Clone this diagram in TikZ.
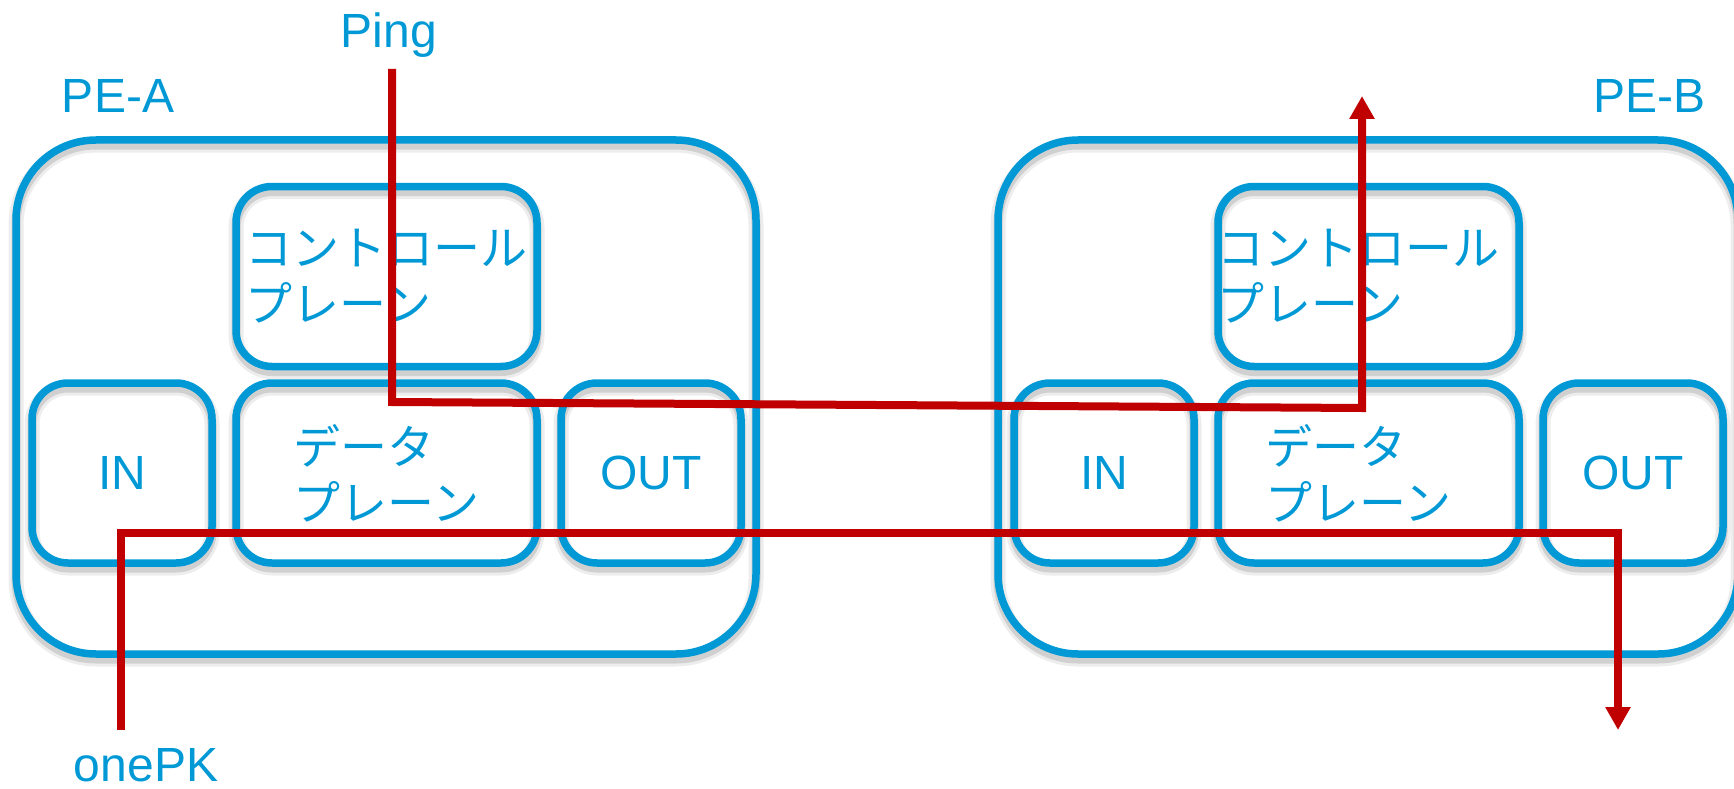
\documentclass[tikz,border=0pt]{standalone}
\usepackage{fontspec}
\setmainfont{Liberation Sans}
\newfontfamily\jpfont{Noto Sans CJK JP}
\usetikzlibrary{arrows.meta,positioning,calc,shadows}
\definecolor{peblue}{RGB}{0,153,214}
\definecolor{pathred}{RGB}{192,0,0}
\tikzset{
  boxshadow/.style={
    general shadow={shadow yshift=-5pt, draw=black, fill=none, opacity=0.07, line width=15pt},
    general shadow={shadow yshift=-5pt, draw=black, fill=none, opacity=0.12, line width=9pt}},
  pebox/.style={draw=peblue, line width=7.5pt, rounded corners=80pt, boxshadow,
    minimum width=740pt, minimum height=514pt, inner sep=0pt},
  partbox/.style={draw=peblue, line width=7.5pt, rounded corners=36pt, boxshadow,
    minimum width=180pt, minimum height=180pt, inner sep=0pt, text=peblue,
    font=\fontsize{48}{56}\selectfont},
  planebox/.style={partbox, minimum width=301pt},
  planetext/.style={text=peblue, align=left, inner sep=0pt,
    font=\jpfont\fontsize{47}{56}\selectfont},
  lbl/.style={text=peblue, font=\fontsize{48}{56}\selectfont, inner sep=0pt},
  flow/.style={draw=pathred, line width=8pt},
  flowtip/.style={flow, -{Triangle[width=24pt,length=23pt]}}
}
% one PE router: #1 name, #2 horizontal offset, #3 shift of the plane texts
\newcommand\mydrawpe[3]
{
\begin{scope}[xshift=#2]
\node[pebox]    (pe#1)   at (386,397)     {};
\node[planebox] (ctl#1)  at (386.5,276.5) {};
\node[partbox]  (in#1)   at (122,473)     {IN};
\node[planebox] (data#1) at (386.5,473)   {};
\node[partbox]  (out#1)  at (651,473)     {OUT};
\node[planetext, #3] (ctltext#1)  at (ctl#1)  {コントロール\\プレーン};  % control plane
\node[planetext, #3] (datatext#1) at (data#1) {データ\\プレーン};      % data plane
\end{scope}
}

\begin{document}
\begin{tikzpicture}[x=1pt, y=-1pt, line join=miter]
\useasboundingbox (0,0) rectangle (1734,789);
\mydrawpe{A}{0pt}{}
\mydrawpe{B}{982pt}{xshift=-10pt}
\node[lbl, anchor=base] (ping)  at (389,48)   {Ping};
\node[lbl, anchor=base] (labA)  at (118,113)  {PE-A};
\node[lbl, anchor=base] (labB)  at (1649,113) {PE-B};
\node[lbl, anchor=base] (onepk) at (146,781)  {onePK};
% ping: down into PE-A, over to the control plane of PE-B
\coordinate (pingin)  at (392,69);
\coordinate (pingout) at (1362,96);
\draw[flowtip] (pingin) -- (392,402) -- (1362,408) -- (pingout);
% onePK: in at PE-A, through both data planes, out of PE-B
\coordinate (pkin)  at (121,730);
\coordinate (pkout) at (1618,730);
\draw[flowtip] (pkin) -- (121,533) -- (1618,533) -- (pkout);
\end{tikzpicture}
\end{document}
